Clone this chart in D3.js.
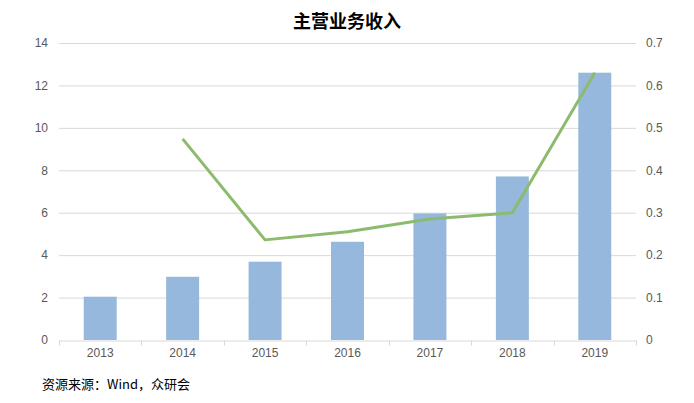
<!DOCTYPE html>
<html><head><meta charset="utf-8">
<script src="https://cdn.jsdelivr.net/npm/d3@7"></script>
<style>body{margin:0;background:#fff}svg{display:block}</style>
</head><body>
<svg id="c" width="694" height="403"></svg>
<script>
const years = ["2013","2014","2015","2016","2017","2018","2019"];
const revenue = [2.04, 2.98, 3.69, 4.63, 5.97, 7.71, 12.6];
const growthYears = ["2014","2015","2016","2017","2018","2019"];
const growth = [0.474, 0.236, 0.255, 0.285, 0.30, 0.63];
const leftTicks = [0,2,4,6,8,10,12,14];
const rightTicks = [0,0.1,0.2,0.3,0.4,0.5,0.6,0.7];
const title = "主营业务收入";
const source = "资源来源：Wind，众研会";

const svg = d3.select("#c");
const m = {l:59, r:58, t:43, b:63};
const W = 694, H = 403;
const x = d3.scaleBand().domain(years).range([m.l, W-m.r]).paddingInner(0.6).paddingOuter(0.3);
const xb = d3.scaleBand().domain(years).range([m.l, W-m.r]);
const yL = d3.scaleLinear().domain([0,14]).range([H-m.b, m.t]);
const yR = d3.scaleLinear().domain([0,0.7]).range([H-m.b, m.t]);
const font = "'Liberation Sans', Arial, sans-serif";

// gridlines
svg.append("g").selectAll("line").data(leftTicks.slice(1)).join("line")
  .attr("x1", m.l).attr("x2", W-m.r)
  .attr("y1", d=>yL(d)+0.5).attr("y2", d=>yL(d)+0.5)
  .attr("stroke", "#d9d9d9").attr("stroke-width", 1);

// bars
svg.append("g").selectAll("rect").data(revenue).join("rect")
  .attr("x", (d,i)=>x(years[i])).attr("width", x.bandwidth())
  .attr("y", d=>yL(d)).attr("height", d=>yL(0)-yL(d))
  .attr("fill", "#95b8dc");

// x axis
const gx = svg.append("g").attr("transform", `translate(0,${yL(0)+0.5})`)
  .call(d3.axisBottom(xb).tickSize(0).tickPadding(8));
gx.select(".domain").attr("stroke", "#d9d9d9");
gx.selectAll("text").attr("fill", "#595959").style("font-family", font).style("font-size", "12px");
// boundary ticks
const bounds = years.map(y=>xb(y)).concat([W-m.r]);
gx.selectAll(".bt").data(bounds).join("line").attr("class","bt")
  .attr("x1", d=>Math.round(d)+0.5).attr("x2", d=>Math.round(d)+0.5)
  .attr("y1", 0).attr("y2", 5).attr("stroke", "#d9d9d9");

// left axis
const gl = svg.append("g").attr("transform", `translate(${m.l},0)`)
  .call(d3.axisLeft(yL).tickValues(leftTicks).tickSize(0).tickPadding(11));
gl.select(".domain").remove();
gl.selectAll("text").attr("fill", "#595959").style("font-family", font).style("font-size", "12px");

// right axis
const gr = svg.append("g").attr("transform", `translate(${W-m.r},0)`)
  .call(d3.axisRight(yR).tickValues(rightTicks).tickSize(0).tickPadding(10).tickFormat(d=>d===0?"0":d3.format(".1f")(d)));
gr.select(".domain").remove();
gr.selectAll("text").attr("fill", "#595959").style("font-family", font).style("font-size", "12px");

// line
const line = d3.line().x((d,i)=>xb(growthYears[i])+xb.bandwidth()/2).y(d=>yR(d));
svg.append("path").datum(growth).attr("d", line)
  .attr("fill", "none").attr("stroke", "#8cbb6e").attr("stroke-width", 3).attr("stroke-linejoin","round");

// title
svg.append("text").attr("x", 347).attr("y", 28).attr("text-anchor","middle")
  .style("font-family", "'Noto Sans CJK SC', sans-serif").style("font-size","18px").style("font-weight","bold")
  .attr("fill","#000").text(title);

// source
svg.append("text").attr("x", 42).attr("y", 389)
  .style("font-family", "'Noto Sans CJK SC', sans-serif").style("font-size","13px")
  .attr("fill","#000").text(source);
</script>
</body></html>
